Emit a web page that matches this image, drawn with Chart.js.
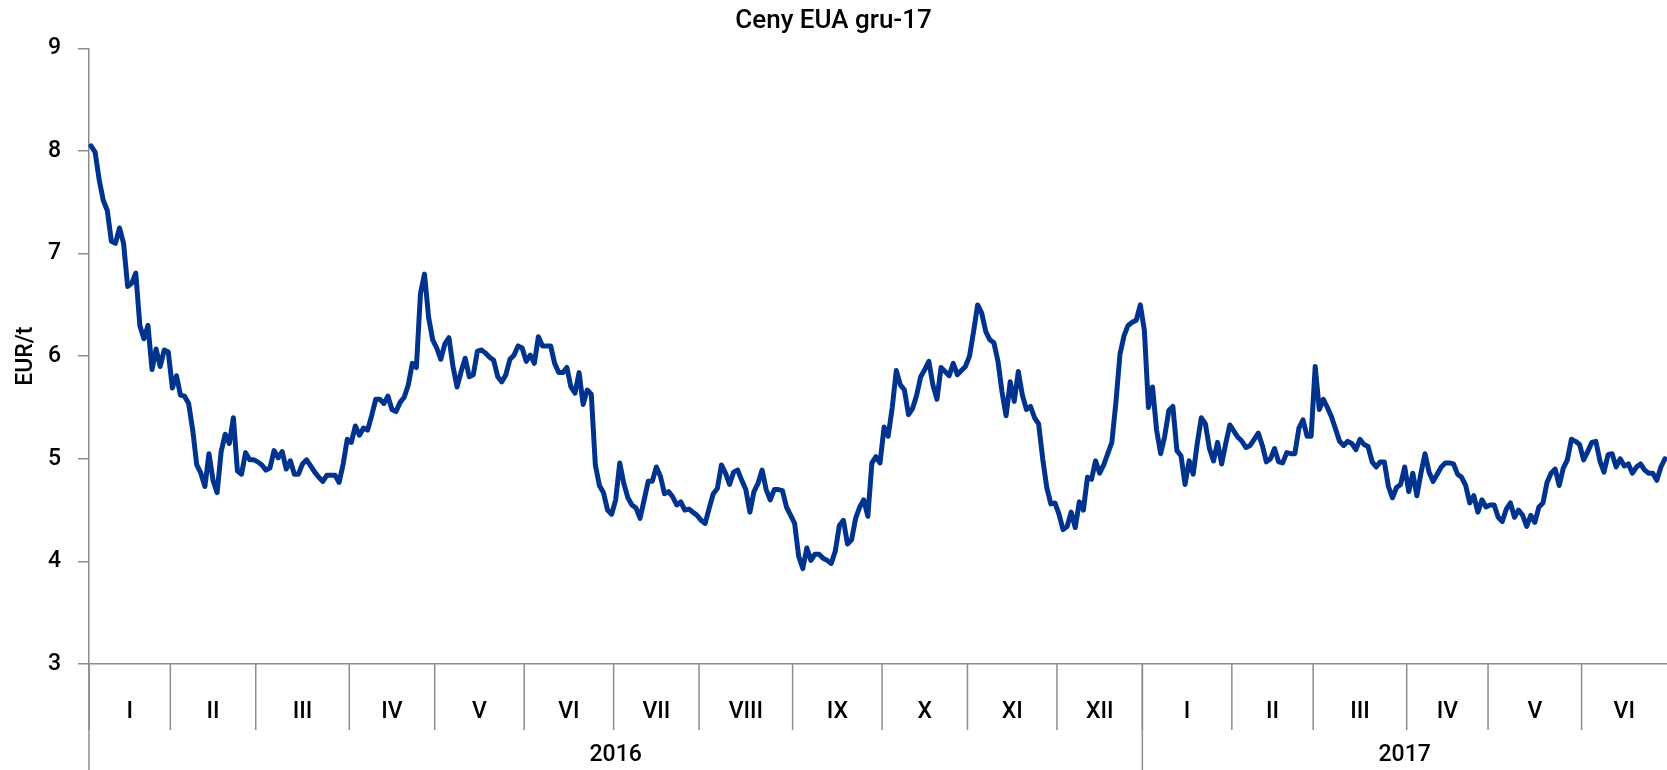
<!DOCTYPE html>
<html>
<head>
<meta charset="utf-8">
<script src="https://cdn.jsdelivr.net/npm/chart.js@4.4.0/dist/chart.umd.min.js"></script>
<style>
  html, body { margin: 0; padding: 0; background: #fff; }
</style>
</head>
<body>
<canvas id="chart" width="1667" height="770"></canvas>
<script>
/* ---- data (EUR/t, one value per trading day) ---- */
const monthLabels = ['I', 'II', 'III', 'IV', 'V', 'VI', 'VII', 'VIII', 'IX', 'X', 'XI', 'XII',
                     'I', 'II', 'III', 'IV', 'V', 'VI'];
const monthDays = [20, 21, 23, 21, 22, 22, 21, 23, 22, 21, 22, 21,
                   22, 20, 23, 20, 23, 21];
const yearLabels = ['2016', '2017'];
const yearMonths = [12, 6];
const yTicks = [3, 4, 5, 6, 7, 8, 9];

const prices2016 = [
    8.05, 7.99, 7.72, 7.52, 7.42, 7.12, 7.10, 7.25, 7.10, 6.68, 6.71, 6.81, 6.30, 6.17, 6.30, 5.87, 6.07, 5.90, 6.06, 6.04,
    5.69, 5.81, 5.62, 5.61, 5.54, 5.28, 4.94, 4.86, 4.73, 5.05, 4.79, 4.67, 5.07, 5.24, 5.15, 5.40, 4.88, 4.85, 5.06, 4.99, 4.99,
    4.97, 4.94, 4.89, 4.91, 5.08, 5.01, 5.07, 4.90, 4.98, 4.85, 4.85, 4.95, 4.99, 4.93, 4.87, 4.82, 4.78, 4.84, 4.84, 4.84, 4.77, 4.95, 5.19,
    5.16, 5.32, 5.23, 5.30, 5.28, 5.42, 5.58, 5.58, 5.54, 5.61, 5.48, 5.46, 5.55, 5.60, 5.72, 5.93, 5.89, 6.61, 6.80, 6.38, 6.16,
    6.08, 5.97, 6.12, 6.18, 5.90, 5.70, 5.85, 5.98, 5.80, 5.82, 6.05, 6.06, 6.03, 5.99, 5.96, 5.80, 5.75, 5.82, 5.97, 6.01, 6.10, 6.08,
    5.95, 6.01, 5.93, 6.19, 6.10, 6.10, 6.10, 5.93, 5.84, 5.84, 5.89, 5.70, 5.64, 5.84, 5.53, 5.67, 5.63, 4.94, 4.74, 4.67, 4.50, 4.46,
    4.60, 4.96, 4.76, 4.62, 4.55, 4.52, 4.42, 4.60, 4.78, 4.78, 4.92, 4.83, 4.66, 4.68, 4.63, 4.55, 4.58, 4.50, 4.51, 4.48, 4.45,
    4.40, 4.37, 4.52, 4.66, 4.71, 4.94, 4.86, 4.75, 4.87, 4.89, 4.79, 4.70, 4.48, 4.68, 4.76, 4.89, 4.70, 4.60, 4.70, 4.70, 4.69, 4.53, 4.45,
    4.37, 4.05, 3.93, 4.13, 4.01, 4.07, 4.07, 4.03, 4.01, 3.98, 4.10, 4.35, 4.40, 4.17, 4.21, 4.42, 4.53, 4.60, 4.44, 4.96, 5.02, 4.96,
    5.31, 5.22, 5.50, 5.86, 5.72, 5.67, 5.43, 5.49, 5.62, 5.80, 5.87, 5.95, 5.72, 5.58, 5.89, 5.85, 5.81, 5.93, 5.82, 5.86, 5.90,
    6.00, 6.24, 6.50, 6.42, 6.24, 6.16, 6.13, 5.95, 5.65, 5.42, 5.75, 5.56, 5.85, 5.62, 5.48, 5.51, 5.40, 5.34, 5.00, 4.72, 4.56, 4.57,
    4.46, 4.31, 4.34, 4.48, 4.33, 4.58, 4.50, 4.82, 4.80, 4.98, 4.86, 4.94, 5.05, 5.16, 5.55, 6.02, 6.20, 6.30, 6.33, 6.35, 6.50
];

const prices2017 = [
    6.25, 5.50, 5.70, 5.28, 5.05, 5.22, 5.47, 5.51, 5.08, 5.03, 4.75, 4.98, 4.85, 5.15, 5.40, 5.34, 5.10, 4.98, 5.16, 4.95, 5.15, 5.33,
    5.27, 5.21, 5.17, 5.11, 5.13, 5.19, 5.25, 5.13, 4.97, 5.00, 5.10, 4.97, 4.96, 5.06, 5.05, 5.05, 5.30, 5.38, 5.22, 5.22,
    5.90, 5.48, 5.58, 5.50, 5.41, 5.29, 5.17, 5.13, 5.17, 5.15, 5.09, 5.19, 5.14, 5.12, 4.97, 4.92, 4.97, 4.97, 4.73, 4.62, 4.72, 4.75, 4.92,
    4.68, 4.86, 4.64, 4.86, 5.05, 4.87, 4.78, 4.85, 4.92, 4.96, 4.96, 4.95, 4.85, 4.82, 4.74, 4.57, 4.64, 4.48, 4.60, 4.53,
    4.55, 4.55, 4.43, 4.39, 4.51, 4.57, 4.43, 4.50, 4.45, 4.34, 4.45, 4.38, 4.53, 4.57, 4.77, 4.86, 4.90, 4.74, 4.91, 4.99, 5.19, 5.17, 5.14,
    4.99, 5.07, 5.16, 5.17, 4.98, 4.87, 5.04, 5.05, 4.92, 5.00, 4.93, 4.95, 4.86, 4.92, 4.95, 4.89, 4.86, 4.86, 4.79, 4.92, 5.00
];

const prices = prices2016.concat(prices2017);

// one category per trading day, named after its month
const dayLabels = [];
monthDays.forEach((n, m) => {
    for (let i = 0; i < n; i++) dayLabels.push(monthLabels[m]);
});

const AXIS_GREY = '#8c8c8c';
const FONT = 'Roboto, "DejaVu Sans", sans-serif';

/* Two-level category axis (months, then years) under the plot */
const groupAxis = {
    id: 'groupAxis',
    afterDraw(chart) {
        const x = chart.scales.x;
        const ctx = chart.ctx;
        const step = x.getPixelForValue(1) - x.getPixelForValue(0);
        const edge = i => x.getPixelForValue(i) - step / 2;
        const top = x.top;

        ctx.save();
        ctx.strokeStyle = AXIS_GREY;
        ctx.lineWidth = 1.5;
        ctx.fillStyle = '#000';
        ctx.font = '500 23px ' + FONT;
        ctx.textAlign = 'center';
        ctx.textBaseline = 'middle';

        let start = 0;
        monthDays.forEach((n, m) => {
            const l = edge(start);
            const r = Math.min(edge(start + n), x.right);
            ctx.beginPath();
            ctx.moveTo(l, top);
            ctx.lineTo(l, top + 66);
            ctx.stroke();
            ctx.fillText(monthLabels[m], (l + r) / 2, top + 48);
            start += n;
        });

        let mi = 0;
        start = 0;
        yearMonths.forEach((k, y) => {
            let n = 0;
            for (let j = 0; j < k; j++) n += monthDays[mi + j];
            const l = edge(start);
            const r = Math.min(edge(start + n), x.right);
            ctx.beginPath();
            ctx.moveTo(l, top);
            ctx.lineTo(l, chart.height);
            ctx.stroke();
            ctx.fillText(yearLabels[y], (l + r) / 2, top + 91);
            mi += k;
            start += n;
        });
        ctx.restore();
    }
};

new Chart(document.getElementById('chart'), {
    type: 'line',
    data: {
        labels: dayLabels,
        datasets: [{
            data: prices,
            borderColor: '#00338d',
            borderWidth: 5,
            borderJoinStyle: 'round',
            borderCapStyle: 'round',
            pointRadius: 0,
            tension: 0
        }]
    },
    options: {
        responsive: false,
        animation: false,
        layout: { padding: 0 },
        plugins: {
            legend: { display: false },
            tooltip: { enabled: false },
            title: {
                display: true,
                text: 'Ceny EUA gru-17',
                color: '#000',
                font: { family: FONT, size: 26, weight: 500 },
                padding: { top: 6, bottom: 11.2 }
            }
        },
        scales: {
            x: {
                offset: true,
                ticks: { display: false },
                grid: { display: false },
                border: { color: AXIS_GREY, width: 1.5 },
                afterFit: s => { s.height = 106; }
            },
            y: {
                min: 3,
                max: 9,
                afterBuildTicks: s => { s.ticks = yTicks.map(v => ({ value: v })); },
                ticks: { color: '#000', font: { family: FONT, size: 23, weight: 500 }, padding: 17 },
                grid: { drawOnChartArea: false, tickLength: 11, color: AXIS_GREY, lineWidth: 1.5 },
                border: { color: AXIS_GREY, width: 1.5 },
                title: {
                    display: true,
                    text: 'EUR/t',
                    color: '#000',
                    font: { family: FONT, size: 23, weight: 500 },
                    padding: { top: 12, bottom: 0 }
                },
                afterFit: s => { s.width = 89; }
            }
        }
    },
    plugins: [groupAxis]
});
</script>
</body>
</html>
